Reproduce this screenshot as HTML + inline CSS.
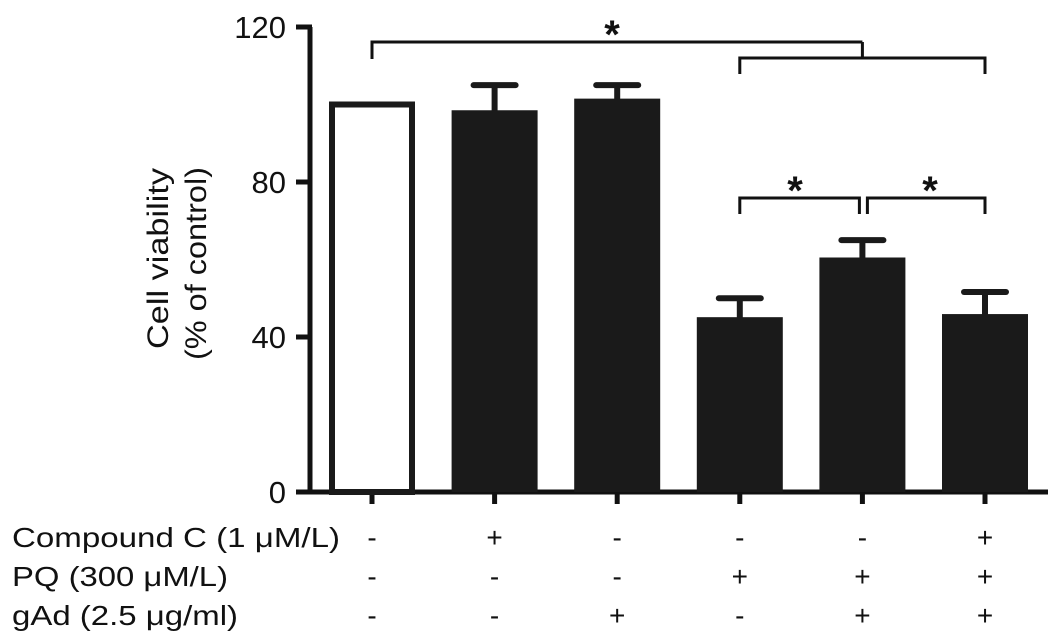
<!DOCTYPE html>
<html><head><meta charset="utf-8"><style>
html,body{margin:0;padding:0;background:#fff;}
svg{display:block;font-family:"Liberation Sans",Arial,sans-serif;}
</style></head><body>
<svg id="chart" width="1062" height="643" viewBox="0 0 1062 643" xmlns="http://www.w3.org/2000/svg">
<g id="axes"></g>
<g id="bars"></g>
<g id="sig"></g>
<g id="table"></g>
<text transform="translate(0,0) rotate(-90)" font-size="30" fill="#111"><tspan x="-349" y="168" textLength="181" lengthAdjust="spacingAndGlyphs">Cell viability</tspan><tspan x="-360" y="206" textLength="193" lengthAdjust="spacingAndGlyphs">(% of control)</tspan></text>
</svg>
<script>
const categories = ["Control","CC","gAd","PQ","PQ+gAd","CC+PQ+gAd"];
const values = [100, 98, 101, 44.6, 60, 45.4];
const errors = [0, 7, 4, 5.4, 5, 6.2];
const yTicks = [0, 40, 80, 120];
const rowLabels = ["Compound C (1 \u03bcM/L)", "PQ (300 \u03bcM/L)", "gAd (2.5 \u03bcg/ml)"];
const rowSigns = [["-","+","-","-","-","+"],["-","-","-","+","+","+"],["-","-","+","-","+","+"]];

const NS="http://www.w3.org/2000/svg";
const y0=492, yTop=27, yMax=120;
const y=v=>y0-(v/yMax)*(y0-yTop);
const x=i=>372+i*122.6;
const bw=86;
const labelWidths=[328,216,226];
function mk(parent,tag,attrs){const e=document.createElementNS(NS,tag);for(const k in attrs)e.setAttribute(k,attrs[k]);document.getElementById(parent).appendChild(e);return e;}

let ax=mk('axes','line',{x1:310,y1:y(yMax),x2:310,y2:y0+2,stroke:'#111','stroke-width':5});


let bx=mk('axes','line',{x1:308,y1:y0,x2:1048,y2:y0,stroke:'#111','stroke-width':5});


yTicks.forEach(t=>{
  let tk=mk('axes','line',{x1:296,y1:y(t),x2:312,y2:y(t),stroke:'#111','stroke-width':5});
  
  
  let tl=mk('axes','text',{x:286,y:y(t)+11,'text-anchor':'end','font-size':31,fill:'#111'});
  tl.textContent=t;
  
  
});
categories.forEach((c,i)=>{
  let tk=mk('axes','line',{x1:x(i),y1:y0,x2:x(i),y2:y0+12,stroke:'#111','stroke-width':5});
  
  
});
categories.forEach((c,i)=>{
  const v=values[i], e=errors[i];
  if(e>0){
    let eb=mk('bars','line',{x1:x(i),y1:y(v),x2:x(i),y2:y(v+e),stroke:'#1a1a1a','stroke-width':6});
    
    
    let cp=mk('bars','line',{x1:x(i)-21,y1:y(v+e),x2:x(i)+21,y2:y(v+e),stroke:'#1a1a1a','stroke-width':6,'stroke-linecap':'round'});
    
    
  }
  let r;
  if(i===0){
    r=mk('bars','rect',{x:x(i)-bw/2+3,y:y(v),width:bw-6,height:y0-y(v),fill:'#fff',stroke:'#1a1a1a','stroke-width':6});
  } else {
    r=mk('bars','rect',{x:x(i)-bw/2,y:y(v)-2,width:bw,height:y0-y(v)+2,fill:'#1a1a1a'});
  }
  
  
});
function path(d,name){let p=mk('sig','path',{d:d,fill:'none',stroke:'#111','stroke-width':3});}
function star(px,py){let s=mk('sig','text',{x:px,y:py,'text-anchor':'middle','font-size':40,'font-weight':'bold',fill:'#111'});s.textContent='*';}
path(`M${x(0)} 59 V42 H${x(4)}`,'bracket-top');
path(`M${x(3)} 74 V58 H${x(5)} V74 M${x(4)} 58 V42`,'bracket-group');
star(612,48);
path(`M${x(3)} 214 V198 H${x(4)-3} V214`,'bracket-pq-vs-pq-gad');
path(`M${x(4)+5} 214 V198 H${x(5)} V214`,'bracket-pq-gad-vs-cc');
star(795,204); star(930,204);
rowLabels.forEach((l,r)=>{
  const ty=547+r*39;
  let t=mk('table','text',{x:12,y:ty,'font-size':28,fill:'#111',textLength:labelWidths[r],lengthAdjust:'spacingAndGlyphs'});
  t.textContent=l;
  
  
  rowSigns[r].forEach((s,i)=>{
    let st=mk('table','text',{x:x(i),y:ty,'text-anchor':'middle','font-size':28,fill:'#111'});
    st.textContent=s;
    
    
  });
});
</script>
</body></html>
